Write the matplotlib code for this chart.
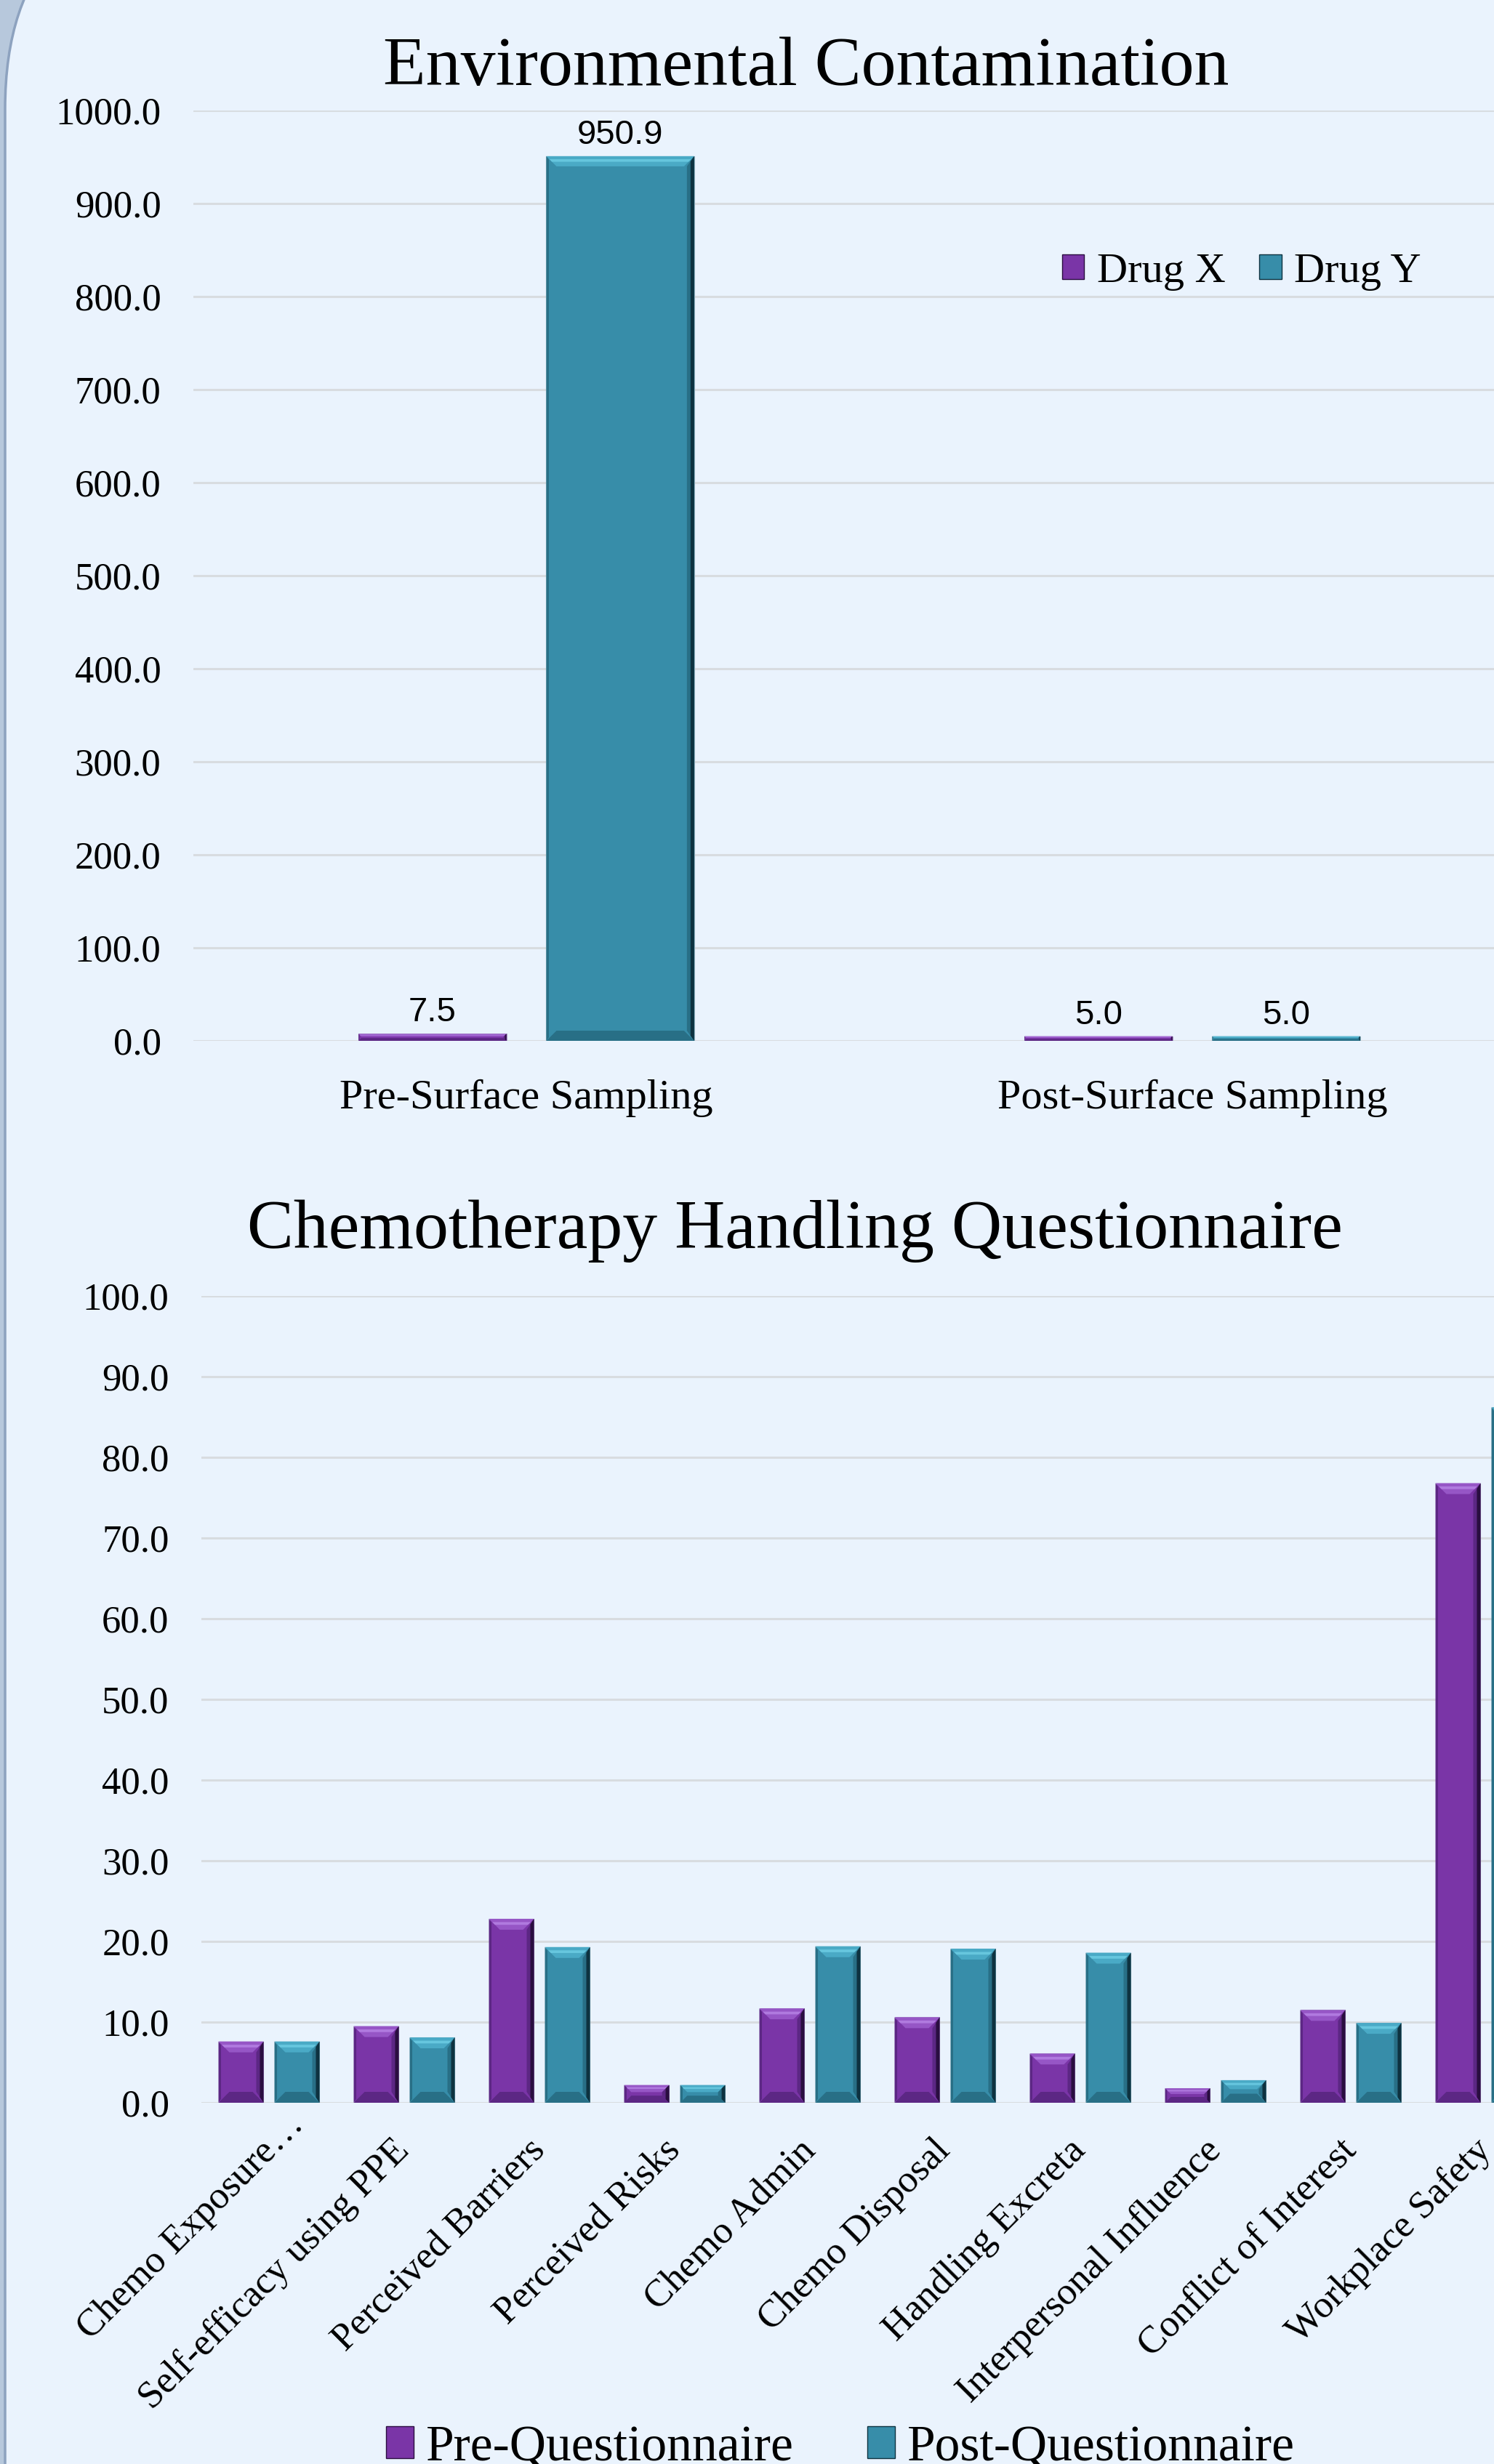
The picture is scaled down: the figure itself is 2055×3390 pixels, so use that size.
import numpy as np
import matplotlib.pyplot as plt
from matplotlib.patches import FancyBboxPatch, Patch
from matplotlib.transforms import IdentityTransform, ScaledTranslation

plt.rcParams['font.family'] = ['Liberation Serif', 'DejaVu Serif']

# environmental contamination (surface wipe sampling)
sites = ['Pre-Surface Sampling', 'Post-Surface Sampling']
drug_x = [7.5, 5.0]
drug_y = [950.9, 5.0]
env_ticks = [0, 100, 200, 300, 400, 500, 600, 700, 800, 900, 1000]

# questionnaire scores
topics = ['Chemo Exposure\u2026', 'Self-efficacy using PPE', 'Perceived Barriers',
          'Perceived Risks', 'Chemo Admin', 'Chemo Disposal', 'Handling Excreta',
          'Interpersonal Influence', 'Conflict of Interest', 'Workplace Safety']
pre_q = [7.6, 9.5, 22.8, 2.2, 11.7, 10.6, 6.1, 1.8, 11.5, 76.8]
post_q = [7.6, 8.1, 19.3, 2.2, 19.4, 19.1, 18.6, 2.8, 9.9, 86.2]
q_ticks = [0, 10, 20, 30, 40, 50, 60, 70, 80, 90, 100]

W, H = 2055, 3390
bg = '#EAF3FD'
purple = dict(main='#7A35A7', light='#9656C6', lighter='#B07ADF', dark='#2A0E40',
              mid='#5C2784', edge='#A99CC4')
teal = dict(main='#378DA9', light='#4AAAC6', lighter='#66C6DE', dark='#0E3240',
            mid='#286F86', edge='#8FB0BE')
grid_c = '#D8DCE0'

fig = plt.figure(figsize=(W / 100, H / 100), dpi=100)
fig.patch.set_facecolor('#B7C8DC')
frame = FancyBboxPatch((7, -300), 2400, H + 450,
                       boxstyle='round,pad=0,rounding_size=300',
                       transform=IdentityTransform(), facecolor=bg,
                       edgecolor='#8DA2BF', linewidth=2.5, zorder=0)
fig.add_artist(frame)


def px_axes(left, right, top, bottom):
    return fig.add_axes([left / W, 1 - bottom / H, (right - left) / W, (bottom - top) / H])


def bevel(ax, x, vals, w, pal, cap_px, px_x, px_y):
    vals = np.asarray(vals, dtype=float)
    ax.bar(x, vals, w, color=pal['main'], zorder=2, edgecolor=pal['edge'], linewidth=0.8)
    cap = np.minimum(cap_px / px_y, vals * 0.4)
    dx = cap * px_y / px_x
    rw = 10 / px_x
    for xi, v, c, d in zip(x, vals, cap, dx):
        l, r = xi - w / 2, xi + w / 2
        # top highlight, two tones
        ax.fill([l, r, r - d, l + d], [v, v, v - c, v - c], color=pal['light'], zorder=3, lw=0)
        ax.fill([l + d * 0.3, r - d * 0.3, r - d * 0.55, l + d * 0.55],
                [v - c * 0.3, v - c * 0.3, v - c * 0.55, v - c * 0.55],
                color=pal['lighter'], zorder=3, lw=0)
        # bottom shade
        ax.fill([l, r, r - d, l + d], [0, 0, c, c], color=pal['mid'], zorder=3, lw=0)
        # right shade, dark outer strip over a softer inner one
        rr = min(rw, d)
        ax.fill([r, r, r - rr, r - rr], [0, v, v - c, c], color=pal['mid'], zorder=3, lw=0)
        ax.fill([r, r, r - rr * 0.5, r - rr * 0.5], [0, v, v - c * 0.5, c * 0.5],
                color=pal['dark'], zorder=3, lw=0)
        # left shade
        ax.fill([l, l, l + rr * 0.35, l + rr * 0.35], [0, v, v - c * 0.35, c * 0.35],
                color=pal['mid'], zorder=3, lw=0)


def style(ax, ticks, ylim):
    ax.set_facecolor('none')
    ax.set_ylim(*ylim)
    ax.set_yticks(ticks)
    ax.set_yticklabels(['%.1f' % t for t in ticks], fontsize=38)
    ax.yaxis.grid(True, color=grid_c, linewidth=2.2, zorder=0)
    ax.set_axisbelow(True)
    for s in ax.spines.values():
        s.set_visible(False)
    ax.tick_params(length=0)
    ax.tick_params(axis='y', pad=32)


# ---- top chart
ax1 = px_axes(266, 2098, 152, 1432)
style(ax1, env_ticks, (0, 1000))
ax1.set_xlim(-0.5, 1.5)
xs = np.arange(len(sites))
bw = 0.222
off = 0.141
px_x1, px_y1 = 916, 1.28
bevel(ax1, xs - off, drug_x, bw, purple, 14, px_x1, px_y1)
bevel(ax1, xs + off, drug_y, bw, teal, 14, px_x1, px_y1)
for xv, vals in ((xs - off, drug_x), (xs + off, drug_y)):
    for xi, v in zip(xv, vals):
        ax1.annotate('%.1f' % v, (xi, v), xytext=(0, 7), textcoords='offset pixels',
                     ha='center', va='bottom', fontsize=34, family='Liberation Sans')
ax1.set_xticks(xs)
ax1.set_xticklabels(sites, fontsize=42)
ax1.tick_params(axis='x', pad=38)
ax1.legend(handles=[Patch(facecolor=purple['main'], edgecolor=purple['dark'], label='Drug X'),
                    Patch(facecolor=teal['main'], edgecolor=teal['dark'], label='Drug Y')],
           loc='center', bbox_to_anchor=(1708 / W, 1 - 374 / H), bbox_transform=fig.transFigure,
           ncol=2, frameon=False, fontsize=42, handlelength=0.52, handleheight=0.52,
           handletextpad=0.3, columnspacing=0.8, borderpad=0)
fig.text(1109 / W, 1 - 117 / H, 'Environmental Contamination', ha='center', va='baseline',
         fontsize=69)

# ---- bottom chart
ax2 = px_axes(277, 2137, 1783, 2893)
style(ax2, q_ticks, (0, 100))
ax2.set_xlim(-0.5, len(topics) - 0.5)
xq = np.arange(len(topics))
bw2 = 0.333
off2 = 0.207
px_x2, px_y2 = 186, 11.1
bevel(ax2, xq - off2, pre_q, bw2, purple, 15, px_x2, px_y2)
bevel(ax2, xq + off2, post_q, bw2, teal, 15, px_x2, px_y2)
ax2.set_xticks(xq)
ax2.set_xticklabels(topics, fontsize=38, rotation=45, ha='right', va='center',
                    rotation_mode='anchor')
ax2.tick_params(axis='x', pad=42)
# the truncated first label sits further along its slant in the original
first = ax2.get_xticklabels()[0]
first.set_transform(first.get_transform() + ScaledTranslation(0.40, 0.36, fig.dpi_scale_trans))
fig.text(1093 / W, 1 - 1717 / H, 'Chemotherapy Handling Questionnaire', ha='center',
         va='baseline', fontsize=69)
fig.legend(handles=[Patch(facecolor=purple['main'], edgecolor=purple['dark'], label='Pre-Questionnaire'),
                    Patch(facecolor=teal['main'], edgecolor=teal['dark'], label='Post-Questionnaire')],
           loc='center', bbox_to_anchor=(1156 / W, 1 - 3368 / H), ncol=2, frameon=False,
           fontsize=50, handlelength=0.55, handleheight=0.6, handletextpad=0.25,
           columnspacing=1.45, borderpad=0)

fig.savefig('out.png', dpi=100, facecolor=fig.get_facecolor())
